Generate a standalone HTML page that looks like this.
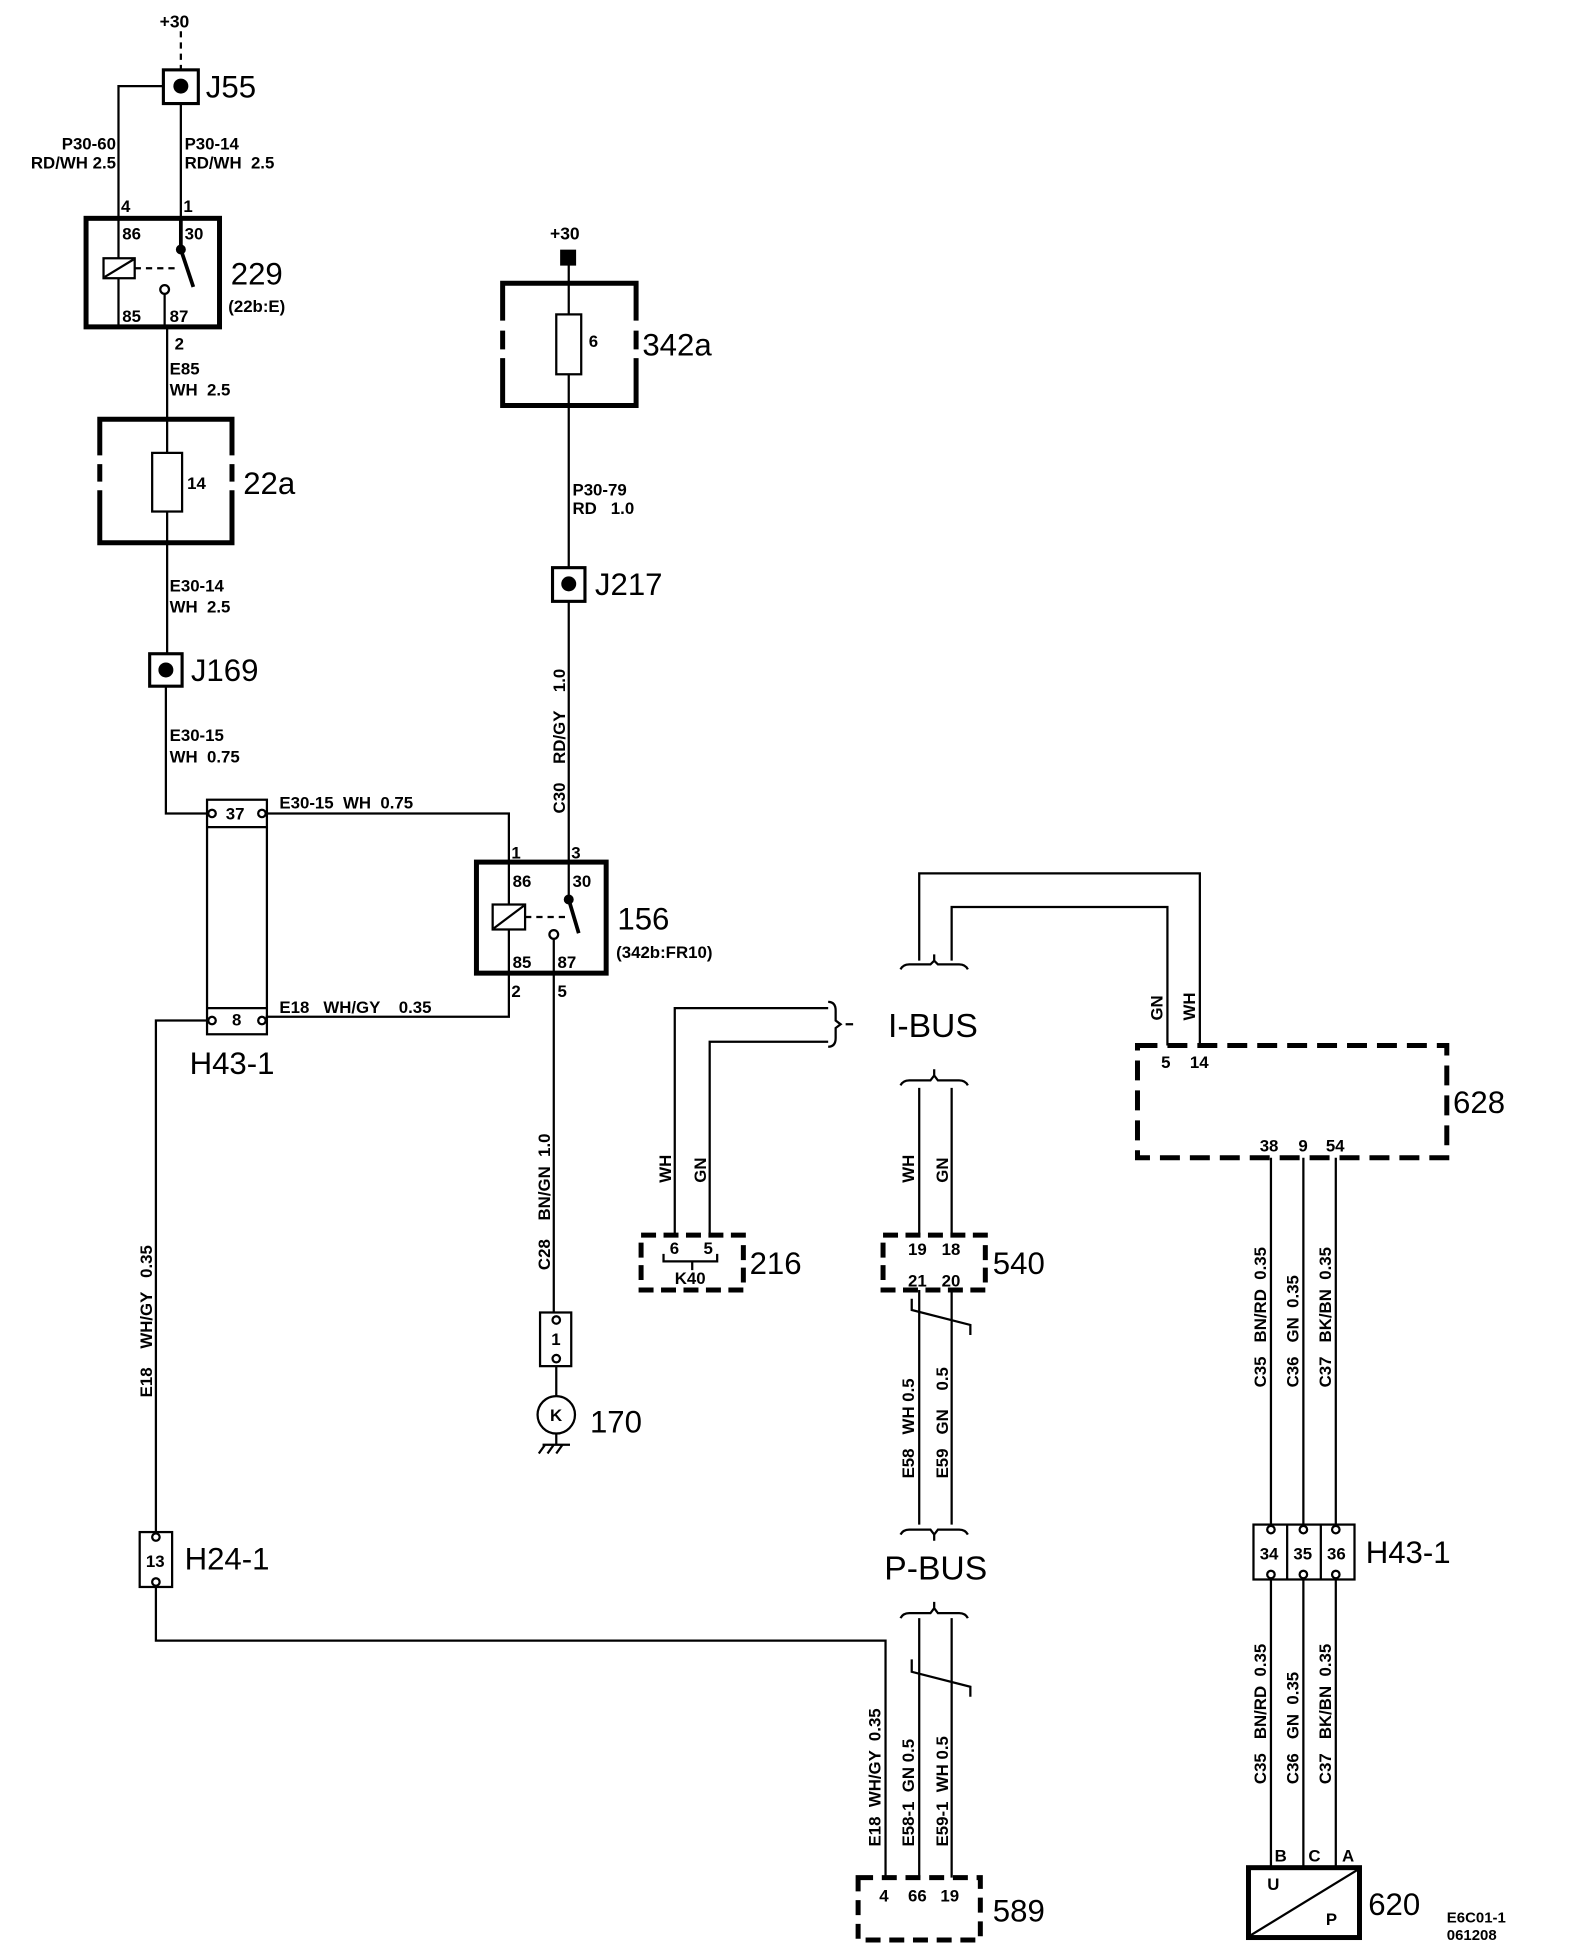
<!DOCTYPE html>
<html><head><meta charset="utf-8"><style>
html,body{margin:0;padding:0;background:#fff}
svg{display:block}
text{font-family:"Liberation Sans",sans-serif;fill:#000;white-space:pre}
.s{font-size:13.5px;font-weight:bold}
.m{font-size:14px;font-weight:bold}
.b{font-size:25px}
</style></head><body>
<svg width="1584" height="1960" viewBox="0 0 1270 1571" preserveAspectRatio="none" xmlns="http://www.w3.org/2000/svg">
<g fill="none" stroke="#000" stroke-width="1.8">
<path d="M145 25V56" stroke-dasharray="5,4"/>
<rect x="131" y="56" width="28" height="27" stroke-width="2.5"/>
<path d="M131 69H95V175M145 83V175"/>
<rect x="69" y="175" width="107" height="87" stroke-width="4"/>
<path d="M95 175V207M95 223V262"/>
<rect x="83" y="207" width="25" height="16"/>
<path d="M84 222L107 208"/>
<path d="M108 215H140" stroke-dasharray="5,4"/>
<path d="M145 175V200M145 200L155 230" stroke-width="3"/>
<circle cx="132" cy="232" r="3.5"/>
<path d="M132 236V262M134 262V336"/>
<path d="M80 365V336H186V365M80 372V386M186 372V386M80 393V435H186V393" stroke-width="4"/>
<rect x="122" y="363" width="24" height="47"/>
<path d="M134 336V363M134 410V524"/>
<rect x="120" y="524" width="26" height="26" stroke-width="2.5"/>
<path d="M133 550V652H166"/>
<rect x="450" y="201" width="11" height="11" fill="#000"/>
<path d="M403 257V227H510V257M403 265V280M510 265V280M403 287V325H510V287" stroke-width="4"/>
<rect x="446" y="252" width="20" height="48"/>
<path d="M456 212V252M456 300V455"/>
<rect x="443" y="455" width="26" height="27" stroke-width="2.5"/>
<path d="M456 482V721"/>
<rect x="166" y="641" width="48" height="188" stroke-width="1.8"/>
<path d="M166 663H214M166 808H214"/>
<circle cx="170" cy="652" r="3"/><circle cx="210" cy="652" r="3"/>
<circle cx="170" cy="818" r="3"/><circle cx="210" cy="818" r="3"/>
<path d="M213 652H408V691M408 780V815H213M166 818H125V1228"/>
<rect x="382" y="691" width="104" height="89" stroke-width="4"/>
<path d="M408 691V725M408 745V780"/>
<rect x="395" y="725" width="26" height="20"/>
<path d="M396 744L420 726"/>
<path d="M421 735H455" stroke-dasharray="5,4"/>
<path d="M456 721L464 748" stroke-width="3"/>
<circle cx="444" cy="749" r="3.5"/>
<path d="M444 753V1052"/>
<rect x="433" y="1052" width="25" height="43"/>
<circle cx="446" cy="1058" r="3"/><circle cx="446" cy="1089" r="3"/>
<path d="M446 1095V1119"/>
<circle cx="446" cy="1134" r="15"/>
<path d="M446 1149V1158M435 1158H457M437 1158L432 1165M444 1158L439 1165M451 1158L446 1165"/>
<rect x="112" y="1228" width="26" height="44"/>
<circle cx="125" cy="1232" r="3"/><circle cx="125" cy="1268" r="3"/>
<path d="M125 1272V1315H710V1505"/>
<rect x="514" y="990" width="82" height="44" stroke-width="4" stroke-dasharray="12,6"/>
<path d="M541 990V808H664M569 990V835H664"/>
<path d="M532 1005V1011H575V1005M555 1011V1018"/>
<path d="M664 803Q670 803 670 810V818L674 821L670 824V832Q670 839 664 839M678 821H684"/>
<path d="M737 770V700H962V838M763 770V727H936V838"/>
<path d="M722 777Q724 773 729 773H746L749 770L752 773H769Q774 773 776 777M749 770V765"/>
<path d="M722 870Q724 866 729 866H746L749 862L752 866H769Q774 866 776 870M749 862V857"/>
<path d="M737 872V990M763 872V990"/>
<rect x="708" y="990" width="82" height="44" stroke-width="4" stroke-dasharray="12,6"/>
<path d="M737 1034V1222M763 1034V1222"/>
<path d="M731 1041V1050L778 1062V1070"/>
<path d="M722 1230Q724 1226 729 1226H746L749 1230L752 1226H769Q774 1226 776 1230M749 1230V1235"/>
<path d="M722 1297Q724 1293 729 1293H746L749 1289L752 1293H769Q774 1293 776 1297M749 1289V1284"/>
<path d="M737 1297V1505M763 1297V1505"/>
<path d="M731 1330V1340L778 1352V1360"/>
<rect x="688" y="1505" width="98" height="50" stroke-width="4" stroke-dasharray="12,7"/>
<rect x="912" y="838" width="248" height="90" stroke-width="4" stroke-dasharray="16,8"/>
<path d="M1019 928V1222M1045 928V1222M1071 928V1222"/>
<rect x="1005" y="1222" width="81" height="44"/>
<path d="M1032 1222V1266M1059 1222V1266"/>
<circle cx="1019" cy="1226" r="3"/><circle cx="1045" cy="1226" r="3"/><circle cx="1071" cy="1226" r="3"/>
<circle cx="1019" cy="1262" r="3"/><circle cx="1045" cy="1262" r="3"/><circle cx="1071" cy="1262" r="3"/>
<path d="M1019 1266V1497M1045 1266V1497M1071 1266V1497"/>
<rect x="1001" y="1497" width="89" height="56" stroke-width="4"/>
<path d="M1003 1551L1088 1499"/>
</g>
<g fill="#000">
<circle cx="145" cy="69" r="6"/>
<circle cx="133" cy="537" r="6"/>
<circle cx="456" cy="468" r="6"/>
<circle cx="145" cy="200" r="4"/>
<circle cx="456" cy="721" r="4"/>
</g>
<text x="128" y="22" class="m">+30</text>
<text x="165" y="78" class="b">J55</text>
<text x="93" y="120" class="s" text-anchor="end">P30-60</text>
<text x="93" y="135" class="s" text-anchor="end">RD/WH 2.5</text>
<text x="148" y="120" class="s">P30-14</text>
<text x="148" y="135" class="s">RD/WH  2.5</text>
<text x="97" y="170" class="s">4</text>
<text x="147" y="170" class="s">1</text>
<text x="98" y="192" class="s">86</text>
<text x="148" y="192" class="s">30</text>
<text x="98" y="258" class="s">85</text>
<text x="136" y="258" class="s">87</text>
<text x="185" y="228" class="b">229</text>
<text x="183" y="250" class="s">(22b:E)</text>
<text x="140" y="280" class="s">2</text>
<text x="136" y="300" class="s">E85</text>
<text x="136" y="317" class="s">WH  2.5</text>
<text x="150" y="392" class="s">14</text>
<text x="195" y="396" class="b">22a</text>
<text x="136" y="474" class="s">E30-14</text>
<text x="136" y="491" class="s">WH  2.5</text>
<text x="153" y="546" class="b">J169</text>
<text x="136" y="594" class="s">E30-15</text>
<text x="136" y="611" class="s">WH  0.75</text>
<text x="441" y="192" class="m">+30</text>
<text x="472" y="278" class="s">6</text>
<text x="515" y="285" class="b">342a</text>
<text x="459" y="397" class="s">P30-79</text>
<text x="459" y="412" class="s">RD   1.0</text>
<text x="477" y="477" class="b">J217</text>
<text transform="translate(453,652) rotate(-90)" class="s">C30    RD/GY    1.0</text>
<text x="181" y="657" class="s">37</text>
<text x="186" y="822" class="s">8</text>
<text x="224" y="648" class="s">E30-15  WH  0.75</text>
<text x="224" y="812" class="s">E18   WH/GY    0.35</text>
<text x="152" y="861" class="b">H43-1</text>
<text x="410" y="688" class="s">1</text>
<text x="458" y="688" class="s">3</text>
<text x="411" y="711" class="s">86</text>
<text x="459" y="711" class="s">30</text>
<text x="411" y="776" class="s">85</text>
<text x="447" y="776" class="s">87</text>
<text x="410" y="799" class="s">2</text>
<text x="447" y="799" class="s">5</text>
<text x="495" y="745" class="b">156</text>
<text x="494" y="768" class="s">(342b:FR10)</text>
<text transform="translate(122,1120) rotate(-90)" class="s">E18    WH/GY   0.35</text>
<text transform="translate(441,1018) rotate(-90)" class="s">C28    BN/GN  1.0</text>
<text x="442" y="1078" class="s">1</text>
<text x="441" y="1139" class="s">K</text>
<text x="473" y="1148" class="b">170</text>
<text x="117" y="1256" class="s">13</text>
<text x="148" y="1258" class="b">H24-1</text>
<text transform="translate(538,948) rotate(-90)" class="s">WH</text>
<text transform="translate(566,948) rotate(-90)" class="s">GN</text>
<text x="537" y="1005" class="s">6</text>
<text x="564" y="1005" class="s">5</text>
<text x="541" y="1029" class="s">K40</text>
<text x="601" y="1021" class="b">216</text>
<text x="712" y="831" style="font-size:27px">I-BUS</text>
<text x="709" y="1266" style="font-size:27px">P-BUS</text>
<text transform="translate(733,948) rotate(-90)" class="s">WH</text>
<text transform="translate(760,948) rotate(-90)" class="s">GN</text>
<text x="728" y="1006" class="s">19</text>
<text x="755" y="1006" class="s">18</text>
<text x="728" y="1031" class="s">21</text>
<text x="755" y="1031" class="s">20</text>
<text x="796" y="1021" class="b">540</text>
<text transform="translate(733,1185) rotate(-90)" class="s">E58   WH 0.5</text>
<text transform="translate(760,1185) rotate(-90)" class="s">E59   GN    0.5</text>
<text transform="translate(706,1480) rotate(-90)" class="s">E18  WH/GY  0.35</text>
<text transform="translate(733,1480) rotate(-90)" class="s">E58-1  GN 0.5</text>
<text transform="translate(760,1480) rotate(-90)" class="s">E59-1  WH 0.5</text>
<text x="705" y="1524" class="s">4</text>
<text x="728" y="1524" class="s">66</text>
<text x="754" y="1524" class="s">19</text>
<text x="796" y="1540" class="b">589</text>
<text transform="translate(932,818) rotate(-90)" class="s">GN</text>
<text transform="translate(958,818) rotate(-90)" class="s">WH</text>
<text x="931" y="856" class="s">5</text>
<text x="954" y="856" class="s">14</text>
<text x="1010" y="923" class="s">38</text>
<text x="1041" y="923" class="s">9</text>
<text x="1063" y="923" class="s">54</text>
<text x="1165" y="892" class="b">628</text>
<text transform="translate(1015,1112) rotate(-90)" class="s">C35   BN/RD  0.35</text>
<text transform="translate(1041,1112) rotate(-90)" class="s">C36   GN  0.35</text>
<text transform="translate(1067,1112) rotate(-90)" class="s">C37   BK/BN  0.35</text>
<text x="1010" y="1250" class="s">34</text>
<text x="1037" y="1250" class="s">35</text>
<text x="1064" y="1250" class="s">36</text>
<text x="1095" y="1253" class="b">H43-1</text>
<text transform="translate(1015,1430) rotate(-90)" class="s">C35   BN/RD  0.35</text>
<text transform="translate(1041,1430) rotate(-90)" class="s">C36   GN  0.35</text>
<text transform="translate(1067,1430) rotate(-90)" class="s">C37   BK/BN  0.35</text>
<text x="1022" y="1492" class="s">B</text>
<text x="1049" y="1492" class="s">C</text>
<text x="1076" y="1492" class="s">A</text>
<text x="1016" y="1515" class="s">U</text>
<text x="1063" y="1543" class="s">P</text>
<text x="1097" y="1535" class="b">620</text>
<text x="1160" y="1541" style="font-size:12px;font-weight:bold">E6C01-1</text>
<text x="1160" y="1555" style="font-size:12px;font-weight:bold">061208</text>
</svg>
</body></html>
